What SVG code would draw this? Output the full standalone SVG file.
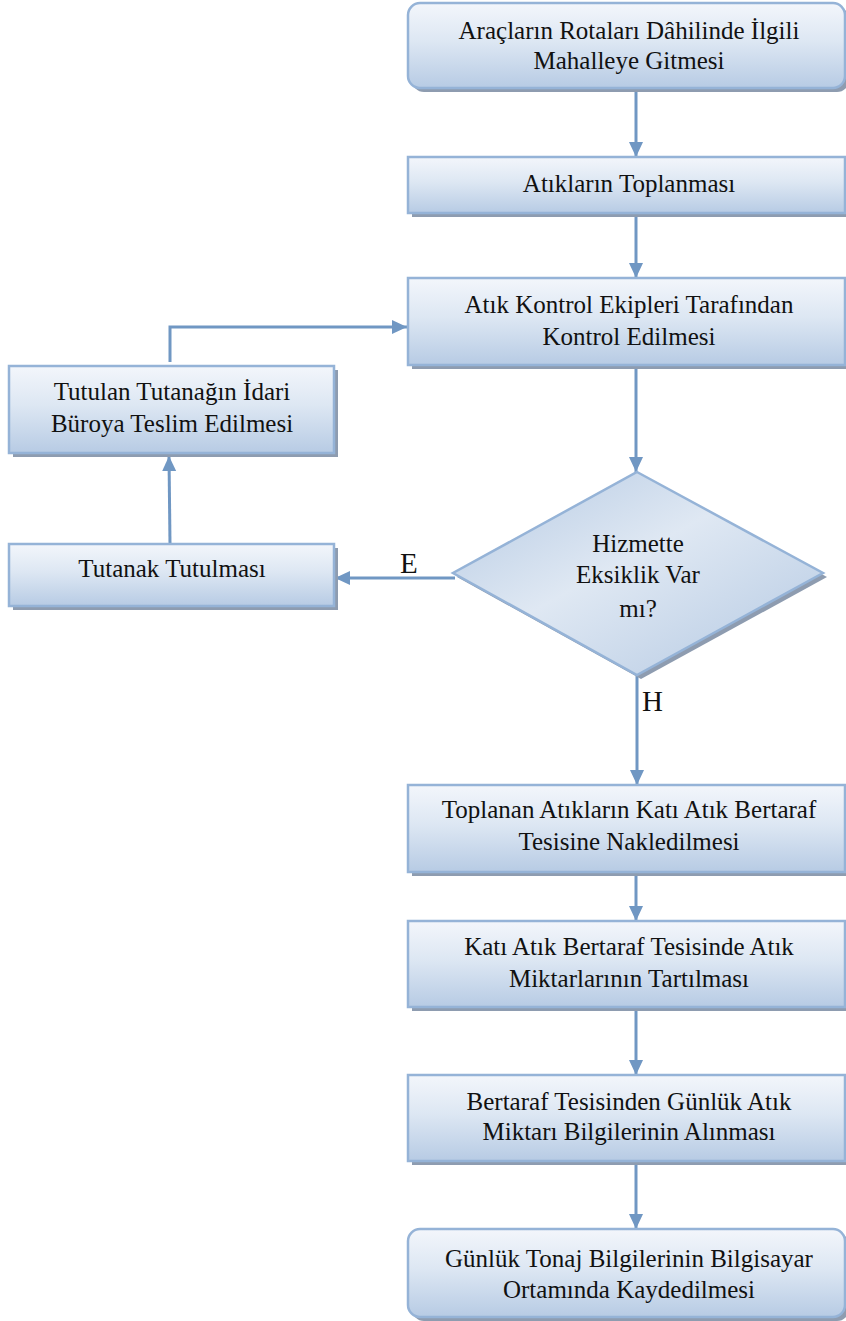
<svg xmlns="http://www.w3.org/2000/svg" width="846" height="1321" viewBox="0 0 846 1321">
<defs>
<linearGradient id="bg" x1="0" y1="0" x2="0" y2="1">
<stop offset="0" stop-color="#f3f6fb"/>
<stop offset="0.45" stop-color="#dde7f3"/>
<stop offset="1" stop-color="#b7cbe4"/>
</linearGradient>
<linearGradient id="dg" x1="0" y1="0" x2="1" y2="1">
<stop offset="0" stop-color="#b3c8e2"/>
<stop offset="0.45" stop-color="#dfe8f3"/>
<stop offset="1" stop-color="#b3c8e2"/>
</linearGradient>
<marker id="ah" markerUnits="userSpaceOnUse" markerWidth="16" markerHeight="16" refX="15" refY="7" orient="auto">
<path d="M0,0 L15,7 L0,14 z" fill="#7097c3"/>
</marker>
<style>
.box{fill:url(#bg);stroke:#95b3d7;stroke-width:2.5}
.sh{fill:#8e9cb0}
.t{font-family:"Liberation Serif",serif;font-size:25px;fill:#111;text-anchor:middle}
.lbl{font-family:"Liberation Serif",serif;font-size:29px;fill:#111}
.c{fill:none;stroke:#7097c3;stroke-width:3}
</style>
</defs>
<g id="connectors">
<line class="c" x1="636" y1="90" x2="636" y2="157" marker-end="url(#ah)"/>
<line class="c" x1="636" y1="216" x2="636" y2="278" marker-end="url(#ah)"/>
<line class="c" x1="636" y1="368" x2="636" y2="472" marker-end="url(#ah)"/>
<line class="c" x1="637" y1="676" x2="637" y2="785" marker-end="url(#ah)"/>
<line class="c" x1="636" y1="875" x2="636" y2="921" marker-end="url(#ah)"/>
<line class="c" x1="636" y1="1011" x2="636" y2="1075" marker-end="url(#ah)"/>
<line class="c" x1="636" y1="1161" x2="636" y2="1229" marker-end="url(#ah)"/>
<line class="c" x1="455" y1="578" x2="335" y2="578" marker-end="url(#ah)"/>
<line class="c" x1="170" y1="544" x2="169" y2="456" marker-end="url(#ah)"/>
<polyline class="c" points="170,362 170,327 407,327" marker-end="url(#ah)"/>
<text class="lbl" x="400" y="573">E</text>
<text class="lbl" x="642" y="711">H</text>
</g>
<g id="n1">
<rect class="sh" x="412" y="7" width="437" height="85" rx="12"/>
<rect class="box" x="408" y="3" width="437" height="85" rx="12"/>
<text class="t" x="629" y="39">Araçların Rotaları Dâhilinde İlgili</text>
<text class="t" x="629" y="69">Mahalleye Gitmesi</text>
</g>
<g id="n2">
<rect class="sh" x="412" y="161" width="437" height="56"/>
<rect class="box" x="408" y="157" width="437" height="56"/>
<text class="t" x="629" y="192">Atıkların Toplanması</text>
</g>
<g id="n3">
<rect class="sh" x="412" y="282" width="437" height="87"/>
<rect class="box" x="408" y="278" width="437" height="87"/>
<text class="t" x="629" y="313">Atık Kontrol Ekipleri Tarafından</text>
<text class="t" x="629" y="345">Kontrol Edilmesi</text>
</g>
<g id="n4">
<rect class="sh" x="13" y="370" width="325" height="87"/>
<rect class="box" x="9" y="366" width="325" height="87"/>
<text class="t" x="172" y="400">Tutulan Tutanağın İdari</text>
<text class="t" x="172" y="432">Büroya Teslim Edilmesi</text>
</g>
<g id="n5">
<rect class="sh" x="13" y="548" width="325" height="62"/>
<rect class="box" x="9" y="544" width="325" height="62"/>
<text class="t" x="172" y="577">Tutanak Tutulması</text>
</g>
<g id="n6">
<polygon class="sh" points="641,476 827,577 641,679 457,577"/>
<polygon points="637,472 823,573 637,675 453,573" fill="url(#dg)" stroke="#95b3d7" stroke-width="2.5"/>
<text class="t" x="638" y="552">Hizmette</text>
<text class="t" x="638" y="583">Eksiklik Var</text>
<text class="t" x="638" y="617">mı?</text>
</g>
<g id="n7">
<rect class="sh" x="412" y="789" width="437" height="87"/>
<rect class="box" x="408" y="785" width="437" height="87"/>
<text class="t" x="629" y="818">Toplanan Atıkların Katı Atık Bertaraf</text>
<text class="t" x="629" y="850">Tesisine Nakledilmesi</text>
</g>
<g id="n8">
<rect class="sh" x="412" y="925" width="437" height="86"/>
<rect class="box" x="408" y="921" width="437" height="86"/>
<text class="t" x="629" y="955">Katı Atık Bertaraf Tesisinde Atık</text>
<text class="t" x="629" y="987">Miktarlarının Tartılması</text>
</g>
<g id="n9">
<rect class="sh" x="412" y="1079" width="437" height="86"/>
<rect class="box" x="408" y="1075" width="437" height="86"/>
<text class="t" x="629" y="1110">Bertaraf Tesisinden Günlük Atık</text>
<text class="t" x="629" y="1140">Miktarı Bilgilerinin Alınması</text>
</g>
<g id="n10">
<rect class="sh" x="412" y="1233" width="437" height="88" rx="12"/>
<rect class="box" x="408" y="1229" width="437" height="88" rx="12"/>
<text class="t" x="629" y="1267">Günlük Tonaj Bilgilerinin Bilgisayar</text>
<text class="t" x="629" y="1298">Ortamında Kaydedilmesi</text>
</g>
</svg>
